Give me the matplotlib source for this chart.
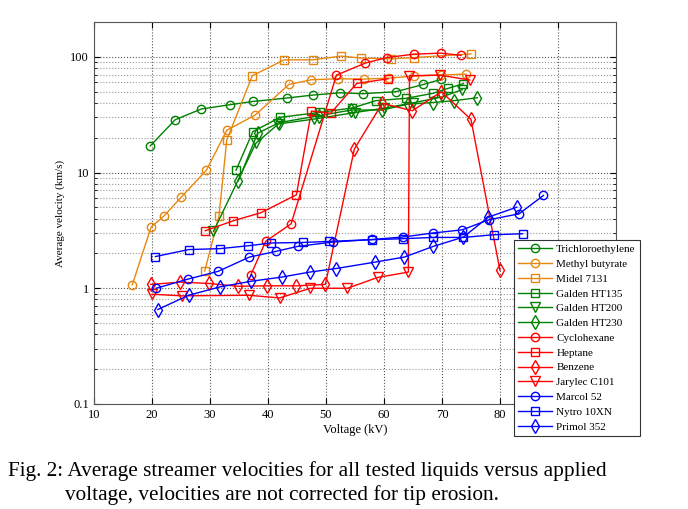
import matplotlib
matplotlib.use('Agg')
import matplotlib.pyplot as plt
from matplotlib.ticker import LogLocator, NullFormatter, FixedLocator, FixedFormatter

plt.rcParams['font.family'] = ['Liberation Serif', 'DejaVu Serif']

# datos (kV, km/s)
tri_x = [19.7, 24.0, 28.5, 33.5, 37.5, 43.2, 47.7, 52.4, 56.3, 62.0, 66.8, 69.8]
tri_y = [17.0, 28.6, 35.4, 38.6, 41.2, 44.0, 46.7, 48.9, 48.0, 49.9, 57.7, 63.7]

mb_x = [16.6, 19.85, 22.0, 25.0, 29.4, 32.9, 37.8, 43.6, 47.5, 52.1, 56.5, 60.9, 65.1, 69.8, 74.1]
mb_y = [1.07, 3.38, 4.18, 6.09, 10.5, 23.2, 31.4, 57.7, 63.4, 64.6, 64.2, 65.5, 68.2, 69.6, 70.9]

midel_x = [29.1, 31.55, 32.9, 37.3, 42.8, 47.7, 52.6, 56.1, 61.2, 65.2, 75.0]
midel_y = [1.41, 4.2, 19.2, 68.6, 94.2, 94.2, 101.4, 97.5, 96.1, 98.5, 106.0]

ht135_x = [34.5, 37.4, 42.1, 48.9, 54.5, 58.6, 63.8, 68.4, 71.0, 73.7]
ht135_y = [10.5, 22.6, 30.0, 33.1, 36.1, 41.8, 43.8, 48.3, 53.3, 58.6]

ht200_x = [30.6, 37.9, 41.8, 48.0, 55.0, 60.0, 65.0, 70.0, 73.5]
ht200_y = [3.1, 17.9, 26.3, 29.0, 33.0, 36.0, 40.0, 45.0, 52.0]

ht230_x = [34.9, 38.2, 41.9, 48.8, 54.4, 59.7, 64.1, 68.5, 72.1, 76.1]
ht230_y = [8.5, 21.8, 27.0, 31.0, 34.7, 34.7, 39.0, 40.3, 41.8, 44.3]

cyc_x = [37.0, 39.6, 44.0, 51.8, 56.8, 60.5, 65.2, 69.8, 73.3]
cyc_y = [1.29, 2.54, 3.61, 69.5, 88.3, 98.6, 105.5, 107.6, 103.0]

hep_x = [29.2, 34.0, 38.8, 44.9, 47.5, 50.8, 55.3, 60.7]
hep_y = [3.14, 3.83, 4.5, 6.42, 34.0, 32.5, 58.9, 64.6]

ben_x = [19.8, 24.9, 29.8, 34.9, 39.8, 44.9, 49.9, 54.9, 59.7, 64.9, 69.9, 75.0, 80.0]
ben_y = [1.08, 1.13, 1.10, 1.04, 1.05, 1.05, 1.08, 16.0, 39.6, 34.2, 49.9, 28.8, 1.43]

jar_x = [20.0, 25.2, 36.7, 42.0, 47.3, 53.7, 58.9, 64.2, 64.4, 69.6, 74.8]
jar_y = [0.888, 0.86, 0.87, 0.825, 1.0, 1.0, 1.24, 1.38, 68.6, 69.5, 63.0]

mar_x = [20.7, 26.2, 31.4, 36.8, 41.3, 45.1, 51.2, 58.0, 63.2, 68.4, 73.5, 78.1, 83.3, 87.5]
mar_y = [1.0, 1.2, 1.40, 1.86, 2.08, 2.30, 2.51, 2.64, 2.77, 3.0, 3.2, 3.91, 4.4, 6.34]

nyt_x = [20.6, 26.3, 31.7, 36.6, 40.5, 46.1, 50.5, 57.9, 63.2, 68.5, 73.7, 78.9, 83.9]
nyt_y = [1.88, 2.16, 2.2, 2.33, 2.46, 2.49, 2.54, 2.63, 2.68, 2.75, 2.75, 2.9, 2.96]

pri_x = [21.0, 26.3, 31.8, 37.1, 42.4, 47.2, 51.7, 58.4, 63.5, 68.5, 73.7, 78.0, 82.9]
pri_y = [0.655, 0.87, 1.03, 1.15, 1.25, 1.38, 1.48, 1.68, 1.86, 2.3, 2.77, 4.12, 5.02]

# el 90 queda tapado por la leyenda en el original
xticks = [10, 20, 30, 40, 50, 60, 70, 80, 90]
xtick_labels = ['10', '20', '30', '40', '50', '60', '70', '80', '']
yticks = [0.1, 1, 10, 100]
ytick_labels = ['0.1', '1', '10', '100']

verde = '#008000'
naranja = '#E8870E'
rojo = '#FF0000'
azul = '#0000FF'

series = [
    (tri_x, tri_y, verde, 'o', 'Trichloroethylene'),
    (mb_x, mb_y, naranja, 'o', 'Methyl butyrate'),
    (midel_x, midel_y, naranja, 's', 'Midel 7131'),
    (ht135_x, ht135_y, verde, 's', 'Galden HT135'),
    (ht200_x, ht200_y, verde, 'v', 'Galden HT200'),
    (ht230_x, ht230_y, verde, 'd', 'Galden HT230'),
    (cyc_x, cyc_y, rojo, 'o', 'Cyclohexane'),
    (hep_x, hep_y, rojo, 's', 'Heptane'),
    (ben_x, ben_y, rojo, 'd', 'Benzene'),
    (jar_x, jar_y, rojo, 'v', 'Jarylec C101'),
    (mar_x, mar_y, azul, 'o', 'Marcol 52'),
    (nyt_x, nyt_y, azul, 's', 'Nytro 10XN'),
    (pri_x, pri_y, azul, 'd', 'Primol 352'),
]

fig = plt.figure(figsize=(6.88, 5.09), dpi=100)
ax = fig.add_axes([0.1366, 0.2063, 0.7587, 0.7505])

for x, y, c, m, nombre in series:
    ms = 6 if m in ('o', 's') else 7
    ax.plot(x, y, color=c, marker=m, markersize=ms, markerfacecolor='none',
            markeredgewidth=1.0, linewidth=1.0, label=nombre)

ax.set_yscale('log')
ax.set_xlim(10, 100)
ax.set_ylim(0.1, 200)
ax.xaxis.set_major_locator(FixedLocator(xticks))
ax.xaxis.set_major_formatter(FixedFormatter(xtick_labels))
ax.yaxis.set_major_locator(FixedLocator(yticks))
ax.yaxis.set_major_formatter(FixedFormatter(ytick_labels))
ax.yaxis.set_minor_locator(LogLocator(base=10, subs=range(2, 10)))
ax.yaxis.set_minor_formatter(NullFormatter())

ax.grid(True, which='major', linestyle=':', color='#555555', linewidth=0.8)
ax.grid(True, which='minor', axis='y', linestyle=':', color='#999999', linewidth=0.8)
ax.tick_params(which='both', direction='in', top=True, right=True, labelsize=9)
ax.tick_params(which='major', length=4)
ax.tick_params(which='minor', length=2)
for s in ax.spines.values():
    s.set_color('#555555')

ax.set_xlabel('Voltage (kV)', fontsize=9, labelpad=2)
ax.set_ylabel('Average velocity (km/s)', fontsize=8, labelpad=4)

leg = ax.legend(loc='upper left', bbox_to_anchor=(514 / 688, 1 - 240 / 509),
                bbox_transform=fig.transFigure, borderaxespad=0, fontsize=8,
                labelspacing=0.45, handlelength=3.0, handletextpad=0.4,
                borderpad=0.4, fancybox=False, framealpha=1, edgecolor='#333333')
leg.get_frame().set_linewidth(0.8)

fig.text(0.012, 1 - 471 / 509, 'Fig. 2: Average streamer velocities for all tested liquids versus applied',
         fontsize=15.3, va='center', ha='left')
fig.text(0.095, 1 - 495 / 509, 'voltage, velocities are not corrected for tip erosion.',
         fontsize=15.3, va='center', ha='left')

fig.savefig('out.png', dpi=100)
